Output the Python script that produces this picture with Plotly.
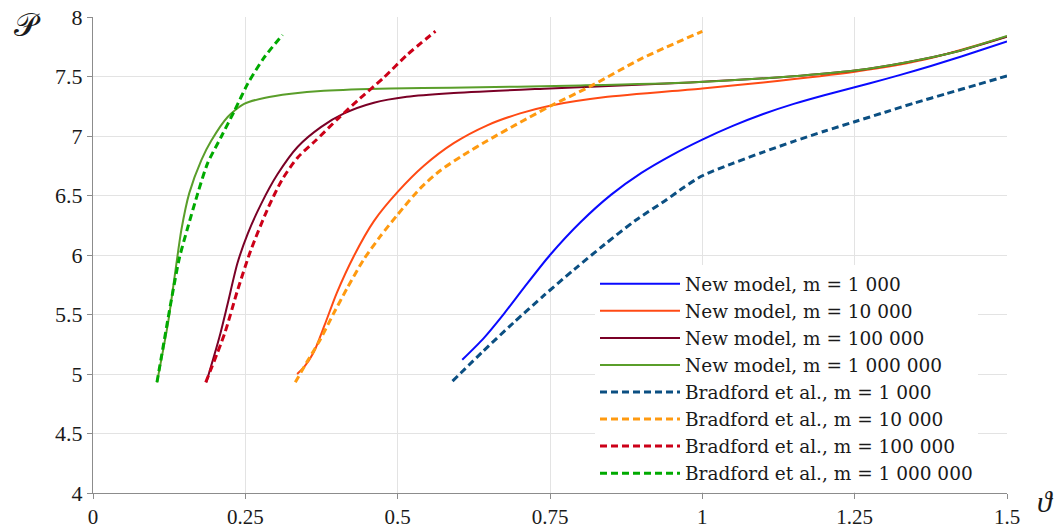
import plotly.graph_objects as go

# ---- data ----
new_1e3_x = [0.606, 0.641, 0.675, 0.708, 0.750, 0.800, 0.850, 0.900, 0.950, 1.000, 1.050, 1.100,
             1.150, 1.200, 1.250, 1.300, 1.350, 1.400, 1.450, 1.500]
new_1e3_y = [5.12, 5.30, 5.51, 5.73, 6.00, 6.275, 6.505, 6.69, 6.84, 6.97, 7.085, 7.185,
             7.27, 7.343, 7.41, 7.478, 7.55, 7.628, 7.71, 7.795]

new_1e4_x = [0.335, 0.346, 0.362, 0.380, 0.400, 0.428, 0.461, 0.500, 0.543, 0.592, 0.647, 0.701,
             0.750, 0.838, 1.000, 1.100, 1.250, 1.363, 1.500]
new_1e4_y = [5.00, 5.055, 5.18, 5.41, 5.68, 5.99, 6.285, 6.53, 6.75, 6.94, 7.09, 7.19,
             7.255, 7.325, 7.40, 7.45, 7.54, 7.64, 7.837]

new_1e5_x = [0.186, 0.2075, 0.221, 0.237, 0.254, 0.276, 0.303, 0.336, 0.374, 0.412, 0.461, 0.515,
             0.586, 0.750, 0.980, 1.144, 1.250, 1.336, 1.418, 1.500]
new_1e5_y = [4.93, 5.31, 5.59, 5.93, 6.18, 6.43, 6.68, 6.91, 7.075, 7.19, 7.28, 7.33,
             7.36, 7.40, 7.45, 7.50, 7.55, 7.62, 7.71, 7.835]

new_1e6_x = [0.105, 0.123, 0.134, 0.145, 0.158, 0.178, 0.194, 0.221, 0.248, 0.281, 0.325, 0.379,
             0.488, 0.587, 0.800, 0.980, 1.144, 1.250, 1.336, 1.418, 1.500]
new_1e6_y = [4.93, 5.425, 5.82, 6.21, 6.52, 6.80, 6.96, 7.16, 7.27, 7.32, 7.355, 7.38,
             7.40, 7.405, 7.425, 7.45, 7.50, 7.55, 7.62, 7.71, 7.84]

brad_1e3_x = [0.590, 0.640, 0.690, 0.740, 0.790, 0.840, 0.890, 0.940, 0.970, 1.000, 1.050, 1.100,
              1.150, 1.200, 1.250, 1.300, 1.350, 1.400, 1.450, 1.500]
brad_1e3_y = [4.94, 5.19, 5.43, 5.66, 5.88, 6.09, 6.29, 6.46, 6.57, 6.666, 6.77, 6.865,
              6.955, 7.04, 7.12, 7.20, 7.28, 7.355, 7.43, 7.505]

brad_1e4_x = [0.332, 0.351, 0.373, 0.395, 0.417, 0.444, 0.472, 0.500, 0.537, 0.570, 0.608, 0.647,
              0.701, 0.750, 0.819, 0.900, 1.000]
brad_1e4_y = [4.93, 5.10, 5.29, 5.51, 5.72, 5.96, 6.16, 6.34, 6.56, 6.71, 6.84, 6.96,
              7.115, 7.25, 7.425, 7.65, 7.88]

brad_1e5_x = [0.185, 0.216, 0.237, 0.259, 0.286, 0.310, 0.336, 0.365, 0.403, 0.439, 0.477, 0.515, 0.562]
brad_1e5_y = [4.93, 5.34, 5.70, 6.04, 6.38, 6.63, 6.82, 6.96, 7.15, 7.32, 7.49, 7.68, 7.88]

brad_1e6_x = [0.105, 0.1285, 0.142, 0.156, 0.172, 0.188, 0.210, 0.232, 0.254, 0.281, 0.311]
brad_1e6_y = [4.93, 5.62, 5.98, 6.24, 6.52, 6.77, 6.99, 7.21, 7.44, 7.66, 7.85]

series_names = [
    "New model, m = 1 000",
    "New model, m = 10 000",
    "New model, m = 100 000",
    "New model, m = 1 000 000",
    "Bradford et al., m = 1 000",
    "Bradford et al., m = 10 000",
    "Bradford et al., m = 100 000",
    "Bradford et al., m = 1 000 000",
]
series_x = [new_1e3_x, new_1e4_x, new_1e5_x, new_1e6_x, brad_1e3_x, brad_1e4_x, brad_1e5_x, brad_1e6_x]
series_y = [new_1e3_y, new_1e4_y, new_1e5_y, new_1e6_y, brad_1e3_y, brad_1e4_y, brad_1e5_y, brad_1e6_y]

x_ticks = [0, 0.25, 0.5, 0.75, 1, 1.25, 1.5]
y_ticks = [4, 4.5, 5, 5.5, 6, 6.5, 7, 7.5, 8]

# ---- styles ----
colors = ["#0a0aff", "#ff4a14", "#7a0026", "#5a9e2a",
          "#0b4f82", "#ff9a10", "#cc0018", "#00aa00"]
FONT = "Liberation Serif"
LEGEND_FONT = "DejaVu Serif"
TXT = "#1a1a1a"

fig = go.Figure()
for i, (name, xs, ys) in enumerate(zip(series_names, series_x, series_y)):
    dashed = i >= 4
    fig.add_trace(go.Scatter(
        x=xs, y=ys, name=name, mode="lines",
        line=dict(color=colors[i], width=3 if dashed else 2,
                  dash="7px,4px" if dashed else "solid",
                  shape="spline", smoothing=0.7),
    ))

axis_common = dict(
    showgrid=True, gridcolor="#e3e3e3", gridwidth=1,
    showline=True, linecolor="#8c8c8c", linewidth=1,
    ticks="outside", ticklen=5, tickcolor="#8c8c8c",
    zeroline=False, automargin=False,
)

plot_w = 1054 - 93 - 47
plot_h = 527 - 17 - 34


def px_to_paper(px, py):
    return (px - 93) / plot_w, (527 - 34 - py) / plot_h


leg_x, leg_y = px_to_paper(595, 492.3)

fig.update_layout(
    width=1054, height=527,
    margin=dict(l=93, r=47, t=17, b=34, autoexpand=False),
    paper_bgcolor="white", plot_bgcolor="white",
    font=dict(family=FONT, color=TXT),
    xaxis=dict(range=[0, 1.5], tickvals=x_ticks, ticktext=[f"{v:g}" for v in x_ticks],
               tickfont=dict(family=FONT, size=21, color=TXT), **axis_common),
    yaxis=dict(range=[4, 8], tickvals=y_ticks, ticktext=[f"{v:g}" for v in y_ticks],
               tickfont=dict(family=FONT, size=22, color=TXT), **axis_common),
    legend=dict(
        x=leg_x, xanchor="left", y=leg_y, yanchor="bottom",
        bgcolor="white", borderwidth=0,
        font=dict(family=LEGEND_FONT, size=18.5, color=TXT),
        itemwidth=80, tracegroupgap=0,
    ),
    showlegend=True,
)

ax_p = px_to_paper(27, 25)
ax_t = px_to_paper(1045, 502)
fig.add_annotation(x=ax_p[0], y=ax_p[1], xref="paper", yref="paper", text="𝒫",
                   xanchor="center", yanchor="middle", showarrow=False,
                   font=dict(family="DejaVu Serif", size=32, color=TXT))
fig.add_annotation(x=ax_t[0], y=ax_t[1], xref="paper", yref="paper", text="<i>ϑ</i>",
                   xanchor="center", yanchor="middle", showarrow=False,
                   font=dict(family=FONT, size=30, color=TXT))

fig.write_html("out.html")
